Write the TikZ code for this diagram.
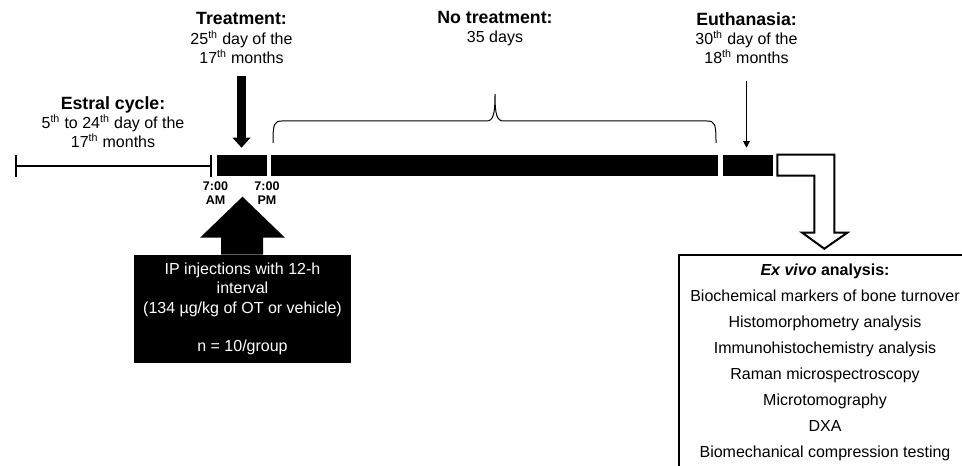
\documentclass[tikz,border=0pt]{standalone}
\usepackage{fontspec}
\setmainfont{Liberation Sans}
\usetikzlibrary{arrows.meta,positioning,calc}
\newcommand{\hd}[1]{{\fontsize{13.3}{16}\selectfont\bfseries #1}}
\newcommand{\ord}[2]{#1\textsuperscript{#2}}

\begin{document}
\begin{tikzpicture}[x=0.75pt,y=-0.75pt,
    lbl/.style={align=center,font=\fontsize{12}{14.4}\selectfont,inner sep=0pt},
    tm/.style={align=center,font=\fontsize{9.4}{10.5}\selectfont\bfseries,inner sep=0pt},
    blk/.style={fill=black,inner sep=0pt,minimum height=15.75pt},
    arr/.style={-{Triangle[width=5pt,length=5pt]},line width=0.75pt},
    bigarr/.style={-{Triangle[width=13pt,length=7.5pt]},line width=6.75pt}]
  \useasboundingbox (0,0) rectangle (962,466);
  \clip (0,0) rectangle (962,466);
  % timeline
  \coordinate (start) at (15,166);
  \coordinate (stop) at (212,166);
  \draw[line width=1.5pt,{Bar[width=16.5pt]}-{Bar[width=16.5pt]}] (start) -- (stop);
  \node[blk,minimum width=37.5pt] (d1) at (242,165.5) {};
  \node[blk,minimum width=335.25pt] (d2) at (494.5,165.5) {};
  \node[blk,minimum width=37.5pt] (d3) at (748,165.5) {};

  % labels
  \node[lbl] (estral) at (113,122) {\hd{Estral cycle:}\\ \ord{5}{th} to \ord{24}{th} day of the\\ \ord{17}{th} months};
  \node[lbl] (treat) at (241.5,38) {\hd{Treatment:}\\ \ord{25}{th} day of the\\ \ord{17}{th} months};
  \node[lbl] (notreat) at (495,28.5) {\hd{No treatment:}\\ 35 days};
  \node[lbl] (euth) at (746.5,38) {\hd{Euthanasia:}\\ \ord{30}{th} day of the\\ \ord{18}{th} months};
  \node[tm] (am) at (215.5,193) {7:00\\ AM};
  \node[tm] (pm) at (267,193) {7:00\\ PM};

  % arrows
  \draw[bigarr] ([yshift=-9pt]treat.south) -- ([yshift=5.25pt]treat.south |- d1.north);
  \draw[arr] ([yshift=-12.75pt]euth.south) -- ([yshift=5.25pt]euth.south |- d3.north);

  % brace over the no-treatment period
  \draw[line width=0.75pt] (273,143) .. controls (273,124) and (274,121) .. (282,121) -- (486,121)
    .. controls (493,121) and (495,116) .. (495,94) .. controls (495,116) and (497,121) .. (504,121)
    -- (707,121) .. controls (715,121) and (716,124) .. (716,143);

  % injections
  \node[fill=black,text=white,lbl,minimum width=162.75pt,minimum height=81pt] (ip) at (242.5,309)
    {IP injections with 12-h\\ interval\\ (134 µg/kg of OT or vehicle)\\[14.4pt] n = 10/group};
  \fill (ip.north) ++(-21.5,0) -- ++(0,-17) -- ++(-21,0) -- ++(42.5,-41) -- ++(42.5,41)
    -- ++(-22,0) -- ++(0,17) -- cycle;

  % analysis
  \node[draw,line width=1.5pt,align=center,font=\fontsize{12}{19.5}\selectfont,
        minimum width=219pt,minimum height=161pt] (exvivo) at (825,362.5)
    {\textbf{\textit{Ex vivo} analysis:}\\ Biochemical markers of bone turnover\\ Histomorphometry analysis\\
     Immunohistochemistry analysis\\ Raman microspectroscopy\\ Microtomography\\ DXA\\
     Biomechanical compression testing};
  \draw[line width=1.5pt,line join=miter] ($(d3.north east)+(4,0)$) -- ++(57,0) -- ++(0,78) -- ++(13,0)
    -- ++(-23,16) -- ++(-22,-16) -- ++(12,0) -- ++(0,-57) -- ++(-37,0) -- cycle;
\end{tikzpicture}
\end{document}
